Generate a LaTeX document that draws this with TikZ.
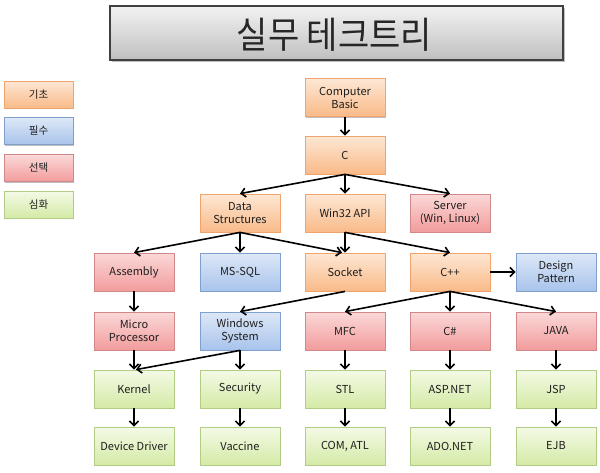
\documentclass[tikz,border=0pt]{standalone}
\usepackage{fontspec}
\setmainfont{Noto Sans CJK KR}
\usetikzlibrary{arrows.meta,shadows}
\definecolor{orT}{HTML}{FDE7D4}
\definecolor{orB}{HTML}{F9BA88}
\definecolor{orD}{HTML}{EEA46C}
\definecolor{blT}{HTML}{DDE8F7}
\definecolor{blB}{HTML}{A8C3EB}
\definecolor{blD}{HTML}{7F9FCC}
\definecolor{rdT}{HTML}{FBD8D8}
\definecolor{rdB}{HTML}{F29C9C}
\definecolor{rdD}{HTML}{D08888}
\definecolor{gnT}{HTML}{F4FAE6}
\definecolor{gnB}{HTML}{D4EAA6}
\definecolor{gnD}{HTML}{B2CC86}
\definecolor{txt}{HTML}{1E1E1E}
\tikzset{
  boxbase/.style={rectangle, inner sep=0pt, align=center, text=txt,
    font=\fontsize{11}{13}\selectfont, line width=0.8pt,
    drop shadow={shadow xshift=1.2pt, shadow yshift=-1.2pt, opacity=0.25, fill=black}},
  tbox/.style={boxbase, minimum width=80pt, minimum height=38pt},
  lbox/.style={boxbase, minimum width=69pt, minimum height=27pt, font=\fontsize{10.5}{12}\selectfont},
  orng/.style={top color=orT, bottom color=orB, draw=orD},
  blue/.style={top color=blT, bottom color=blB, draw=blD},
  pink/.style={top color=rdT, bottom color=rdB, draw=rdD},
  grn/.style={top color=gnT, bottom color=gnB, draw=gnD},
  arr/.style={-{Straight Barb[length=4.5pt,width=9pt]}, line width=1.6pt, black}
}
\begin{document}
\begin{tikzpicture}[x=1pt,y=-1pt]
\useasboundingbox (0,0) rectangle (600,472);
% title
\node[rectangle, minimum width=453pt, minimum height=54pt, top color=white!95!black, bottom color=black!25, draw=black!75, line width=1.1pt,
  drop shadow={shadow xshift=1.5pt, shadow yshift=-1.5pt, opacity=0.25, fill=black}] (title) at (336.5,33) {};
\node[text=black!85, font=\fontsize{34}{40}\selectfont] (titletext) at (334.5,35) {\scalebox{1}[1.08]{실무 테크트리}};
% legend
\node[lbox, orng] (l1) at (38.5,94.5) {기초};
\node[lbox, blue] (l2) at (38.5,131) {필수};
\node[lbox, pink] (l3) at (38.5,168) {선택};
\node[lbox, grn]  (l4) at (38.5,204.5) {심화};
% tree
\node[tbox, orng] (cb) at (345,97.5) {Computer\\Basic};
\node[tbox, orng] (c) at (345,155) {C};
\node[tbox, orng] (ds) at (240,213) {Data\\Structures};
\node[tbox, orng] (w32) at (345,213) {Win32 API};
\node[tbox, pink] (srv) at (450,213) {Server\\(Win, Linux)};
\node[tbox, pink] (asm) at (134,272) {Assembly};
\node[tbox, blue] (sql) at (240,272) {MS-SQL};
\node[tbox, orng] (sock) at (345,272) {Socket};
\node[tbox, orng] (cpp) at (450,272) {C++};
\node[tbox, blue] (dp) at (556,272) {Design\\Pattern};
\node[tbox, pink] (mp) at (134,331) {Micro\\Processor};
\node[tbox, blue] (ws) at (240,331) {Windows\\System};
\node[tbox, pink] (mfc) at (345,331) {MFC};
\node[tbox, pink] (cs) at (450,331) {C\#};
\node[tbox, pink] (java) at (556,331) {JAVA};
\node[tbox, grn] (ker) at (134,389) {Kernel};
\node[tbox, grn] (sec) at (240,389) {Security};
\node[tbox, grn] (stl) at (345,389) {STL};
\node[tbox, grn] (asp) at (450,389) {ASP.NET};
\node[tbox, grn] (jsp) at (556,389) {JSP};
\node[tbox, grn] (dd) at (134,446) {Device Driver};
\node[tbox, grn] (vac) at (240,446) {Vaccine};
\node[tbox, grn] (com) at (345,446) {COM, ATL};
\node[tbox, grn] (ado) at (450,446) {ADO.NET};
\node[tbox, grn] (ejb) at (556,446) {EJB};
% connectors
\draw[arr] (cb.south) -- (c.north);
\draw[arr] (c.south) -- (ds.north);
\draw[arr] (c.south) -- (w32.north);
\draw[arr] (c.south) -- (srv.north);
\draw[arr] (ds.south) -- (asm.north);
\draw[arr] (ds.south) -- (sql.north);
\draw[arr] (ds.south) -- ([xshift=-3pt]sock.north);
\draw[arr] (w32.south) -- (sock.north);
\draw[arr] (w32.south) -- (cpp.north);
\draw[arr] (cpp.east) -- (dp.west);
\draw[arr] (asm.south) -- (mp.north);
\draw[arr] (sock.south) -- (ws.north);
\draw[arr] (cpp.south) -- (mfc.north);
\draw[arr] (cpp.south) -- (cs.north);
\draw[arr] (cpp.south) -- (java.north);
\draw[arr] (mp.south) -- (ker.north);
\draw[arr] (ws.south) -- ([xshift=2pt]ker.north);
\draw[arr] (ws.south) -- (sec.north);
\draw[arr] (mfc.south) -- (stl.north);
\draw[arr] (cs.south) -- (asp.north);
\draw[arr] (java.south) -- (jsp.north);
\draw[arr] (ker.south) -- (dd.north);
\draw[arr] (sec.south) -- (vac.north);
\draw[arr] (stl.south) -- (com.north);
\draw[arr] (asp.south) -- (ado.north);
\draw[arr] (jsp.south) -- (ejb.north);
\end{tikzpicture}
\end{document}
